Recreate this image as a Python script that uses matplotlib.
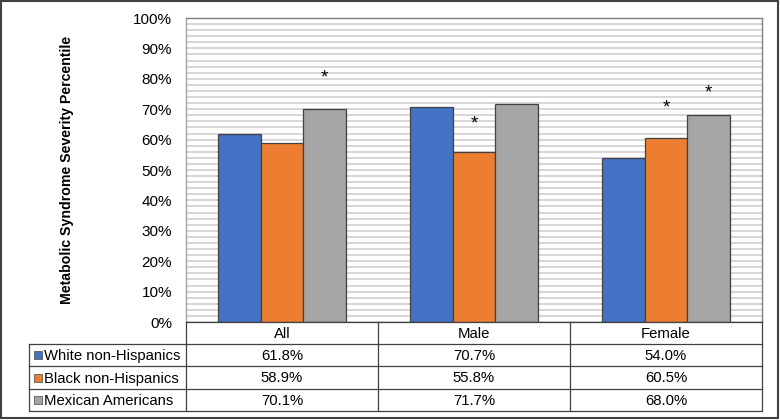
import numpy as np
import matplotlib.pyplot as plt
from matplotlib.patches import Rectangle
from matplotlib.ticker import MultipleLocator, PercentFormatter

plt.rcParams['font.family'] = ['Liberation Sans', 'DejaVu Sans']

# datos
grupos = ['All', 'Male', 'Female']
series = ['White non-Hispanics', 'Black non-Hispanics', 'Mexican Americans']
blancos = [61.8, 70.7, 54.0]
negros = [58.9, 55.8, 60.5]
mexicanos = [70.1, 71.7, 68.0]
# asteriscos (serie, grupo, altura)
asteriscos = [(2, 0, 81.5), (1, 1, 66.4), (1, 2, 71.7), (2, 2, 76.6)]

colores = ['#4472c4', '#ed7d31', '#a5a5a5']
valores = [blancos, negros, mexicanos]

W, H = 780, 420
fig = plt.figure(figsize=(7.8, 4.2), dpi=100)

# ejes del grafico, en pixeles
x0, x1, ytop, ybot = 186, 762, 18, 322
ax = fig.add_axes([x0 / W, 1 - ybot / H, (x1 - x0) / W, (ybot - ytop) / H])

ancho = 0.222
x = np.arange(len(grupos))
for i, (vals, c) in enumerate(zip(valores, colores)):
    ax.bar(x + (i - 1) * ancho, vals, ancho, color=c, edgecolor='#404040', linewidth=0.9, zorder=3)

for s, g, h in asteriscos:
    ax.annotate('*', (g + (s - 1) * ancho, h), xytext=(0, -4), textcoords='offset pixels',
                ha='center', va='center', fontsize=13.5, zorder=4)

ax.set_xlim(-0.5, 2.5)
ax.set_ylim(0, 100)
ax.yaxis.set_major_locator(MultipleLocator(10))
ax.yaxis.set_minor_locator(MultipleLocator(2))
ax.yaxis.set_major_formatter(PercentFormatter(decimals=0))
ax.grid(axis='y', which='both', color='#d4d4d4', linewidth=1.3, zorder=0)
ax.set_axisbelow(True)
ax.set_xticks([])
ax.tick_params(axis='y', which='both', length=0, labelsize=11, pad=10)
for lado in ['left', 'top', 'right']:
    ax.spines[lado].set_color('#7f7f7f')
    ax.spines[lado].set_linewidth(1.0)
ax.spines['left'].set_color('#a6a6a6')
ax.spines['bottom'].set_visible(False)
ax.set_ylabel('Metabolic Syndrome Severity Percentile', fontsize=10.2, fontweight='bold')
ax.yaxis.set_label_coords(-(x0 - 74) / (x1 - x0), 0.5)

# tabla de datos, dibujada en pixeles
tab = fig.add_axes([0, 0, 1, 1])
tab.set_xlim(0, W)
tab.set_ylim(H, 0)
tab.axis('off')

col_x = [x0, 378, 570, x1]
tab_x0 = 29
filas_y = [ybot, 344, 366, 389, 411]
lc = '#404040'
lw = 0.9
fs = 10.7

tab.plot([x0, x1], [ybot, ybot], color=lc, lw=lw)
for y in filas_y[1:]:
    tab.plot([tab_x0, x1], [y, y], color=lc, lw=lw)
for xc in col_x:
    tab.plot([xc, xc], [ybot, filas_y[-1]], color=lc, lw=lw)
tab.plot([tab_x0, tab_x0], [filas_y[1], filas_y[-1]], color=lc, lw=lw)

for j, g in enumerate(grupos):
    xc = (col_x[j] + col_x[j + 1]) / 2
    tab.text(xc, (filas_y[0] + filas_y[1]) / 2 + 1, g, ha='center', va='center', fontsize=fs)
    for i, vals in enumerate(valores):
        yc = (filas_y[i + 1] + filas_y[i + 2]) / 2 + 1
        tab.text(xc, yc, f'{vals[j]:.1f}%', ha='center', va='center', fontsize=fs)

for i, (s, c) in enumerate(zip(series, colores)):
    yc = (filas_y[i + 1] + filas_y[i + 2]) / 2
    tab.add_patch(Rectangle((33.5, yc - 4), 8, 8, facecolor=c, edgecolor='#595959', lw=0.6))
    tab.text(44, yc + 1, s, ha='left', va='center', fontsize=fs)

# marco exterior
tab.add_patch(Rectangle((1, 1), W - 3, H - 3, fill=False, edgecolor='#404040', lw=1.5))

fig.savefig('out.png', dpi=100)
